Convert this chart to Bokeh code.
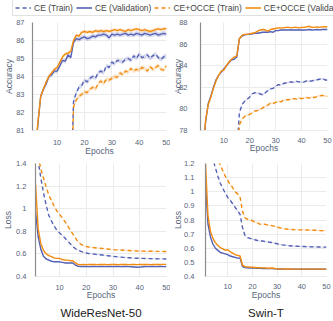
from bokeh.plotting import figure
from bokeh.models import Range1d, Legend, LegendItem, Title, CustomJSTickFormatter, FixedTicker
from bokeh.layouts import column, row
from bokeh.embed import file_html
from bokeh.resources import INLINE

EPOCHS = list(range(1, 51))
LABELS = ["CE (Train)", "CE (Validation)", "CE+OCCE (Train)", "CE+OCCE (Validation)"]
MODELS = ["WideResNet-50", "Swin-T"]
X_TICKS = [10, 20, 30, 40, 50]

# ---- WideResNet-50 accuracy ----
WRN_ACC_CE_TRAIN = [55.0, 60.0, 63.0, 65.5, 67.5, 69.0, 70.2, 71.3, 72.2, 73.0, 73.8, 74.5, 75.2, 75.8, 77.0,
                    82.6, 83.1, 83.4, 83.5, 83.8, 83.7, 83.9, 84.0, 83.9, 84.2, 84.3, 84.2, 84.6, 84.5, 84.8,
                    84.7, 84.9, 84.85, 84.8, 84.95, 85.0, 84.9, 85.15, 85.0, 85.25, 85.05, 85.1, 85.2, 85.0, 85.15,
                    85.25, 85.05, 84.95, 85.1, 85.15]
WRN_ACC_CE_VAL = [76.0, 79.5, 81.4, 82.9, 83.3, 83.6, 84.0, 84.1, 84.3, 84.3, 84.6, 84.9, 84.85, 85.2, 85.05,
                  85.9, 86.1, 86.05, 86.15, 86.2, 86.1, 86.15, 86.25, 86.2, 86.3, 86.3, 86.35, 86.3, 86.15, 86.35,
                  86.3, 86.35, 86.3, 86.35, 86.4, 86.3, 86.35, 86.3, 86.4, 86.35, 86.3, 86.4, 86.35, 86.3, 86.35,
                  86.4, 86.3, 86.35, 86.4, 86.35]
WRN_ACC_OCCE_TRAIN = [54.0, 59.0, 62.0, 64.5, 66.5, 68.0, 69.2, 70.3, 71.2, 72.0, 72.8, 73.5, 74.2, 74.8, 76.0,
                      82.3, 82.7, 82.9, 83.0, 83.15, 83.1, 83.3, 83.4, 83.3, 83.6, 83.75, 83.6, 83.85, 83.8, 83.9,
                      84.0, 83.95, 84.2, 84.1, 84.3, 84.25, 84.45, 84.3, 84.4, 84.35, 84.5, 84.45, 84.3, 84.55, 84.4,
                      84.5, 84.6, 84.4, 84.35, 84.6]
WRN_ACC_OCCE_VAL = [76.2, 79.8, 81.5, 82.9, 83.3, 83.7, 84.0, 84.2, 84.4, 84.5, 84.8, 85.1, 85.25, 85.3, 85.4,
                    86.0, 86.3, 86.25, 86.45, 86.5, 86.45, 86.5, 86.45, 86.55, 86.5, 86.55, 86.5, 86.55, 86.5, 86.55,
                    86.6, 86.55, 86.6, 86.55, 86.5, 86.6, 86.55, 86.6, 86.65, 86.6, 86.55, 86.6, 86.55, 86.5, 86.55,
                    86.6, 86.65, 86.6, 86.65, 86.65]

# ---- Swin-T accuracy ----
SWIN_ACC_CE_TRAIN = [55.0, 60.0, 63.0, 65.5, 67.5, 69.0, 70.2, 71.3, 72.2, 73.0, 73.8, 74.5, 75.0, 75.5, 76.0,
                     79.6, 80.4, 80.7, 80.9, 81.1, 81.4, 81.5, 81.45, 81.4, 81.3, 81.5, 81.7, 81.85, 81.9, 82.1,
                     82.25, 82.2, 82.35, 82.4, 82.45, 82.5, 82.45, 82.55, 82.5, 82.45, 82.5, 82.6, 82.55, 82.6, 82.65,
                     82.7, 82.75, 82.8, 82.7, 82.65]
SWIN_ACC_CE_VAL = [72.0, 76.0, 78.9, 80.5, 81.2, 82.0, 82.7, 83.1, 83.4, 83.7, 84.0, 84.3, 84.55, 84.6, 84.8,
                   86.5, 86.75, 86.85, 86.9, 86.9, 86.95, 87.0, 87.0, 87.05, 87.1, 87.1, 87.1, 87.15, 87.1, 87.25,
                   87.25, 87.3, 87.3, 87.3, 87.3, 87.3, 87.32, 87.3, 87.3, 87.32, 87.3, 87.32, 87.35, 87.3, 87.32,
                   87.35, 87.32, 87.35, 87.35, 87.35]
SWIN_ACC_OCCE_TRAIN = [53.0, 58.0, 61.0, 63.5, 65.5, 67.0, 68.2, 69.3, 70.2, 71.0, 71.8, 72.5, 73.0, 73.5, 74.5,
                       78.5, 79.05, 79.3, 79.4, 79.5, 79.65, 79.8, 79.85, 79.95, 80.1, 80.25, 80.35, 80.55, 80.5, 80.6,
                       80.7, 80.65, 80.8, 80.85, 80.85, 80.9, 80.95, 80.9, 81.0, 80.95, 81.0, 81.05, 81.0, 81.1, 81.05,
                       81.15, 81.2, 81.25, 81.2, 81.15]
SWIN_ACC_OCCE_VAL = [72.3, 76.2, 79.0, 80.4, 81.1, 81.9, 82.6, 83.1, 83.5, 83.6, 84.0, 84.35, 84.6, 84.8, 84.9,
                     86.5, 86.8, 86.9, 86.9, 86.95, 87.0, 87.05, 87.2, 87.3, 87.35, 87.3, 87.2, 87.35, 87.4, 87.45,
                     87.5, 87.5, 87.5, 87.55, 87.55, 87.5, 87.55, 87.55, 87.5, 87.55, 87.55, 87.6, 87.65, 87.55, 87.55,
                     87.6, 87.55, 87.6, 87.6, 87.6]

# ---- WideResNet-50 loss ----
WRN_LOSS_CE_TRAIN = [1.75, 1.42, 1.27, 1.14, 1.03, 0.94, 0.89, 0.845, 0.81, 0.785, 0.765, 0.74, 0.715, 0.69, 0.665,
                     0.645, 0.632, 0.622, 0.614, 0.608, 0.603, 0.600, 0.598, 0.595, 0.592, 0.590, 0.587, 0.584, 0.581, 0.578,
                     0.576, 0.573, 0.571, 0.569, 0.567, 0.566, 0.564, 0.563, 0.562, 0.561, 0.560, 0.559, 0.558, 0.558, 0.557,
                     0.557, 0.556, 0.556, 0.556, 0.555]
WRN_LOSS_CE_VAL = [0.98, 0.75, 0.64, 0.58, 0.555, 0.545, 0.535, 0.53, 0.53, 0.53, 0.525, 0.52, 0.52, 0.52, 0.52,
                   0.50, 0.49, 0.488, 0.488, 0.488, 0.487, 0.488, 0.488, 0.487, 0.488, 0.488, 0.487, 0.488, 0.488, 0.487,
                   0.488, 0.488, 0.487, 0.488, 0.488, 0.487, 0.486, 0.484, 0.482, 0.483, 0.486, 0.488, 0.487, 0.488, 0.488,
                   0.487, 0.488, 0.488, 0.487, 0.488]
WRN_LOSS_OCCE_TRAIN = [1.90, 1.47, 1.35, 1.27, 1.19, 1.12, 1.07, 1.02, 0.98, 0.95, 0.92, 0.885, 0.85, 0.81, 0.775,
                       0.74, 0.705, 0.685, 0.672, 0.665, 0.66, 0.658, 0.655, 0.652, 0.65, 0.648, 0.645, 0.643, 0.64, 0.638,
                       0.636, 0.635, 0.634, 0.632, 0.63, 0.63, 0.628, 0.627, 0.626, 0.625, 0.625, 0.624, 0.624, 0.623, 0.623,
                       0.622, 0.622, 0.622, 0.621, 0.621]
WRN_LOSS_OCCE_VAL = [1.22, 0.82, 0.69, 0.63, 0.60, 0.585, 0.575, 0.565, 0.56, 0.56, 0.55, 0.545, 0.545, 0.54, 0.54,
                     0.52, 0.505, 0.505, 0.506, 0.505, 0.506, 0.507, 0.506, 0.505, 0.506, 0.507, 0.506, 0.505, 0.506, 0.507,
                     0.506, 0.505, 0.506, 0.507, 0.506, 0.505, 0.506, 0.506, 0.505, 0.506, 0.507, 0.506, 0.506, 0.505, 0.506,
                     0.507, 0.506, 0.506, 0.507, 0.507]

# ---- Swin-T loss ----
SWIN_LOSS_CE_TRAIN = [1.60, 1.45, 1.32, 1.23, 1.17, 1.11, 1.06, 1.025, 0.99, 0.96, 0.94, 0.915, 0.89, 0.865, 0.84,
                      0.745, 0.69, 0.675, 0.67, 0.665, 0.66, 0.655, 0.65, 0.652, 0.648, 0.645, 0.642, 0.64, 0.636, 0.632,
                      0.628, 0.624, 0.622, 0.62, 0.618, 0.616, 0.615, 0.614, 0.613, 0.612, 0.612, 0.611, 0.611, 0.61, 0.61,
                      0.61, 0.609, 0.609, 0.608, 0.608]
SWIN_LOSS_CE_VAL = [1.06, 0.77, 0.68, 0.63, 0.60, 0.585, 0.57, 0.565, 0.56, 0.555, 0.545, 0.54, 0.535, 0.53, 0.53,
                    0.47, 0.463, 0.461, 0.46, 0.46, 0.459, 0.458, 0.458, 0.457, 0.457, 0.456, 0.456, 0.457, 0.455, 0.454,
                    0.453, 0.453, 0.452, 0.452, 0.452, 0.452, 0.451, 0.451, 0.451, 0.451, 0.451, 0.451, 0.451, 0.451, 0.451,
                    0.451, 0.451, 0.451, 0.451, 0.451]
SWIN_LOSS_OCCE_TRAIN = [1.75, 1.55, 1.42, 1.33, 1.27, 1.22, 1.19, 1.15, 1.11, 1.08, 1.05, 1.03, 1.0, 0.985, 0.96,
                        0.86, 0.815, 0.805, 0.80, 0.795, 0.785, 0.78, 0.77, 0.772, 0.77, 0.765, 0.762, 0.76, 0.755, 0.75,
                        0.745, 0.742, 0.738, 0.735, 0.734, 0.733, 0.732, 0.731, 0.73, 0.73, 0.73, 0.729, 0.728, 0.728, 0.727,
                        0.727, 0.726, 0.725, 0.724, 0.724]
SWIN_LOSS_OCCE_VAL = [1.20, 0.83, 0.72, 0.67, 0.64, 0.62, 0.605, 0.595, 0.585, 0.59, 0.575, 0.565, 0.555, 0.55, 0.545,
                      0.48, 0.47, 0.468, 0.466, 0.465, 0.464, 0.463, 0.462, 0.461, 0.46, 0.459, 0.458, 0.46, 0.457, 0.455,
                      0.454, 0.454, 0.453, 0.453, 0.453, 0.452, 0.452, 0.452, 0.452, 0.452, 0.452, 0.452, 0.452, 0.452, 0.452,
                      0.452, 0.452, 0.452, 0.452, 0.452]

# half-widths of the shaded spread around each curve: [CE train, CE val, OCCE train, OCCE val]
WRN_ACC_SPREAD = [0.12, 0.14, 0.12, 0.10]
SWIN_ACC_SPREAD = [0.08, 0.07, 0.08, 0.07]
WRN_LOSS_SPREAD = [0.004, 0.004, 0.004, 0.004]
SWIN_LOSS_SPREAD = [0.004, 0.004, 0.004, 0.004]

BLUE = "#5461B4"
ORANGE = "#F28C10"
FONT = "Liberation Sans"
TICK_COLOR = "#56657a"
GRID = "#ebebeb"

loss_fmt = "return String(Number(tick.toFixed(2)));"


def panel(width, height, xr, yr, yticks, ylabel, borders, ystand, xstand, series, spread, loss=False):
    bl, br, bt, bb = borders
    p = figure(width=width, height=height, x_range=Range1d(*xr), y_range=Range1d(*yr),
               output_backend="svg", toolbar_location=None,
               min_border_left=bl, min_border_right=br, min_border_top=bt, min_border_bottom=bb)
    p.outline_line_color = None
    p.background_fill_color = "white"
    colors = [BLUE, BLUE, ORANGE, ORANGE]
    dashes = ["4 3", "solid", "4 3", "solid"]
    for vals, c, s in zip(series, colors, spread):
        p.varea(x=EPOCHS, y1=[v - s for v in vals], y2=[v + s for v in vals], fill_color=c, fill_alpha=0.22)
    order = [0, 2, 1, 3]
    for i in order:
        p.line(EPOCHS, series[i], line_color=colors[i], line_width=1.4, line_dash=dashes[i])
    p.xaxis.ticker = FixedTicker(ticks=X_TICKS)
    p.yaxis.ticker = FixedTicker(ticks=yticks)
    if loss:
        p.yaxis.formatter = CustomJSTickFormatter(code=loss_fmt)
    p.xgrid.grid_line_color = GRID
    p.ygrid.grid_line_color = GRID
    for ax in (p.xaxis[0], p.yaxis[0]):
        ax.major_tick_line_color = None
        ax.minor_tick_line_color = None
        ax.major_label_text_font = FONT
        ax.major_label_text_font_size = "7.5px"
        ax.major_label_text_color = TICK_COLOR
        ax.axis_label_text_font = FONT
        ax.axis_label_text_font_size = "8.5px"
        ax.axis_label_text_font_style = "normal"
        ax.axis_label_text_color = TICK_COLOR
    p.xaxis.axis_line_color = GRID
    p.yaxis.axis_line_color = "#8c8c8c"
    p.yaxis.axis_line_width = 1.2
    p.xaxis.axis_label = "Epochs"
    p.yaxis.axis_label = ylabel
    p.yaxis.major_label_standoff = ystand[0]
    p.yaxis.axis_label_standoff = ystand[1]
    p.xaxis.major_label_standoff = xstand[0]
    p.xaxis.axis_label_standoff = xstand[1]
    return p


p_tl = panel(170, 141, (1, 50), (81, 87), [81, 82, 83, 84, 85, 86, 87], "Accuracy", (32, 4, 4, 20),
             (2, -1), (3, -2),
             [WRN_ACC_CE_TRAIN, WRN_ACC_CE_VAL, WRN_ACC_OCCE_TRAIN, WRN_ACC_OCCE_VAL], WRN_ACC_SPREAD)
p_tr = panel(163, 141, (1, 50), (78, 88), [78, 80, 82, 84, 86, 88], "Accuracy", (23, 6, 5, 17),
             (7, -7), (1, -3),
             [SWIN_ACC_CE_TRAIN, SWIN_ACC_CE_VAL, SWIN_ACC_OCCE_TRAIN, SWIN_ACC_OCCE_VAL], SWIN_ACC_SPREAD)
p_bl = panel(170, 163, (1, 50), (0.4, 1.4), [0.4, 0.6, 0.8, 1.0, 1.2, 1.4], "Loss", (32, 4, 4, 42),
             (3, 0), (2, -3),
             [WRN_LOSS_CE_TRAIN, WRN_LOSS_CE_VAL, WRN_LOSS_OCCE_TRAIN, WRN_LOSS_OCCE_VAL], WRN_LOSS_SPREAD, loss=True)
p_br = panel(163, 163, (1, 50), (0.4, 1.2), [0.4, 0.5, 0.6, 0.7, 0.8, 0.9, 1.0, 1.1, 1.2], "Loss", (22, 7, 5, 40),
             (5, -2), (1, -2),
             [SWIN_LOSS_CE_TRAIN, SWIN_LOSS_CE_VAL, SWIN_LOSS_OCCE_TRAIN, SWIN_LOSS_OCCE_VAL], SWIN_LOSS_SPREAD, loss=True)

for p, name in ((p_bl, MODELS[0]), (p_br, MODELS[1])):
    p.add_layout(Title(text=name, align="center", text_font=FONT, text_font_size="11.5px",
                       text_font_style="normal", text_color="#1a1a1a", standoff=5), "below")

# legend strip
lg = figure(width=333, height=17, x_range=Range1d(0, 1), y_range=Range1d(0, 1),
            output_backend="svg", toolbar_location=None, min_border=0,
            x_axis_location=None, y_axis_location=None)
lg.outline_line_color = None
lg.grid.visible = False
series_leg = [WRN_ACC_CE_TRAIN, WRN_ACC_CE_VAL, WRN_ACC_OCCE_TRAIN, WRN_ACC_OCCE_VAL]
leg_colors = [BLUE, BLUE, ORANGE, ORANGE]
leg_dash = ["4 3", "solid", "4 3", "solid"]
items = []
for lab, vals, c, d in zip(LABELS, series_leg, leg_colors, leg_dash):
    r = lg.line(EPOCHS, vals, line_color=c, line_width=1.6, line_dash=d)
    items.append(LegendItem(label=lab, renderers=[r]))
legend = Legend(items=items, orientation="horizontal", location=(12, 1), margin=0, padding=2,
                spacing=3, glyph_width=16, glyph_height=11, label_height=11, label_standoff=3,
                label_text_font=FONT, label_text_font_size="8.5px", label_text_color="#444444",
                border_line_color="#c4c4c4", border_line_width=1, background_fill_alpha=1)
lg.add_layout(legend, "center")

layout = column(lg, row(p_tl, p_tr), row(p_bl, p_br))
open("out.html", "w").write(file_html(layout, INLINE))
